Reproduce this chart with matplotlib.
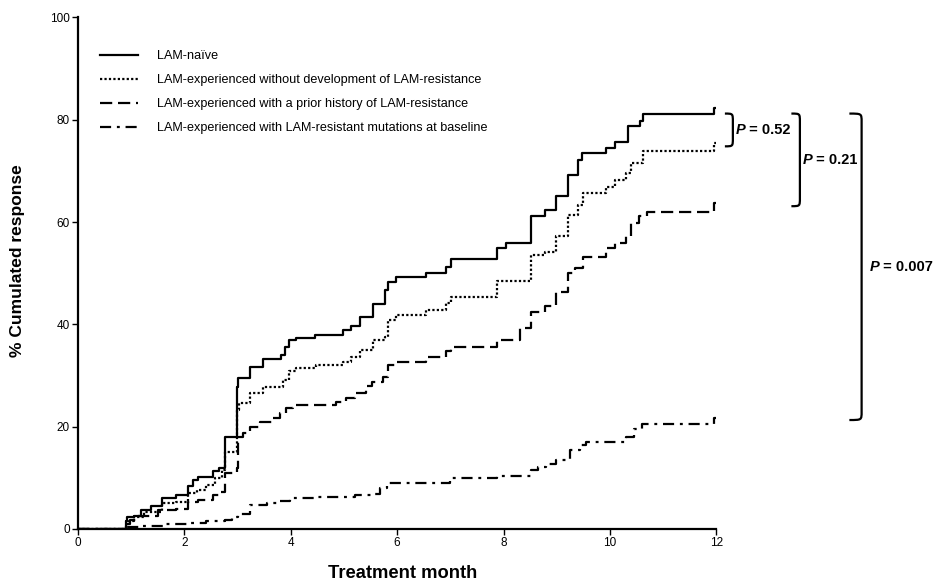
import matplotlib
matplotlib.use("Agg")
import matplotlib.pyplot as plt
from matplotlib.path import Path
from matplotlib.patches import PathPatch

plt.rcParams['font.family'] = ['Liberation Sans', 'DejaVu Sans']

# Cumulative response (%) by treatment month, step points for each group
naive_t = [0, 0.91, 0.93, 1.05, 1.18, 1.38, 1.57, 1.85, 2.07, 2.16, 2.25, 2.54, 2.66, 2.76,
           2.98, 3.0, 3.23, 3.48, 3.82, 3.9, 3.97, 4.10, 4.45, 4.98, 5.14, 5.30, 5.55, 5.77,
           5.82, 5.98, 6.55, 6.92, 7.02, 7.87, 8.05, 8.52, 8.77, 8.99, 9.21, 9.40, 9.47,
           9.93, 10.09, 10.34, 10.56, 10.63, 11.95, 12.0]
naive_v = [0, 1.5, 2.4, 2.6, 3.7, 4.4, 6.0, 6.6, 8.4, 9.6, 10.1, 11.4, 11.9, 17.9,
           27.8, 29.5, 31.7, 33.2, 34.0, 35.6, 36.9, 37.3, 37.9, 38.9, 39.7, 41.4, 44.0, 46.7,
           48.3, 49.2, 50.0, 51.3, 52.7, 54.9, 55.9, 61.1, 62.4, 65.0, 69.2, 72.1, 73.4,
           74.4, 75.7, 78.7, 79.7, 81.1, 82.2, 82.2]

nodev_t = [0, 0.91, 0.95, 1.05, 1.25, 1.57, 1.85, 2.07, 2.23, 2.40, 2.57, 2.70, 2.76,
           2.98, 3.02, 3.23, 3.48, 3.85, 3.97, 4.10, 4.48, 4.98, 5.14, 5.30, 5.55, 5.77,
           5.82, 5.98, 6.55, 6.92, 7.02, 7.87, 8.52, 8.77, 8.99, 9.21, 9.40, 9.49, 9.93,
           10.09, 10.31, 10.40, 10.63, 11.95, 12.0]
nodev_v = [0, 1.0, 1.5, 2.4, 3.4, 5.0, 5.3, 7.0, 7.6, 8.6, 9.9, 11.5, 15.1,
           23.3, 24.6, 26.5, 27.8, 29.1, 30.8, 31.4, 32.1, 32.7, 33.7, 35.0, 36.9, 37.6,
           40.9, 41.8, 42.8, 44.1, 45.4, 48.4, 53.6, 54.2, 57.2, 61.4, 63.3, 65.6, 66.9,
           68.2, 69.5, 71.5, 73.8, 75.4, 75.4]

prior_t = [0, 0.91, 0.97, 1.13, 1.50, 1.85, 2.07, 2.25, 2.54, 2.66, 2.76, 2.98, 3.0,
           3.10, 3.23, 3.42, 3.66, 3.79, 3.91, 4.04, 4.85, 5.04, 5.20, 5.42, 5.52, 5.74,
           5.82, 5.98, 6.55, 6.92, 7.02, 7.87, 8.30, 8.52, 8.77, 8.99, 9.21, 9.35, 9.49,
           9.93, 10.09, 10.31, 10.40, 10.55, 10.69, 11.95, 12.0]
prior_v = [0, 1.0, 1.8, 2.6, 3.7, 4.0, 5.3, 5.6, 6.6, 7.3, 10.9, 11.9, 18.0,
           18.7, 20.0, 21.0, 21.6, 22.6, 23.6, 24.2, 24.9, 25.6, 26.5, 28.0, 28.8, 29.8,
           32.1, 32.7, 33.7, 34.7, 35.6, 36.9, 39.3, 42.5, 43.5, 46.4, 50.0, 51.0, 53.2,
           54.9, 55.9, 57.2, 59.8, 61.1, 62.0, 63.7, 63.7]

mut_t = [0, 0.91, 1.20, 1.60, 2.10, 2.40, 2.76, 2.90, 3.0, 3.23, 3.55, 3.79, 3.98,
         4.50, 5.20, 5.55, 5.67, 5.80, 7.00, 7.87, 8.52, 8.65, 8.80, 8.99, 9.24, 9.43,
         9.55, 10.30, 10.45, 10.60, 11.95, 12.0]
mut_v = [0, 0.3, 0.6, 1.0, 1.2, 1.5, 1.8, 2.4, 3.0, 4.7, 5.0, 5.5, 6.0,
         6.2, 6.6, 6.8, 8.0, 8.9, 9.9, 10.4, 11.5, 12.1, 12.8, 13.5, 15.4, 16.4,
         17.0, 18.0, 19.6, 20.6, 21.6, 21.6]

labels = ["LAM-naïve",
          "LAM-experienced without development of LAM-resistance",
          "LAM-experienced with a prior history of LAM-resistance",
          "LAM-experienced with LAM-resistant mutations at baseline"]
styles = ['-', (0, (1, 1)), (0, (5.5, 2.6)), (0, (5, 2.6, 1.3, 2.6))]

# pairwise comparisons against the LAM-naive group
p_labels = [" = 0.52", " = 0.21", " = 0.007"]

fig = plt.figure(figsize=(9.34, 5.86), dpi=100)
ax = fig.add_axes([0.0835, 0.0973, 0.6835, 0.873])

series = [(naive_t, naive_v), (nodev_t, nodev_v), (prior_t, prior_v), (mut_t, mut_v)]
for (t, v), lab, ls in zip(series, labels, styles):
    ax.step(t, v, where='post', color='black', lw=1.6, linestyle=ls, label=lab)

ax.set_xlim(0, 12)
ax.set_ylim(0, 100)
ax.set_xticks(range(0, 13, 2))
ax.set_yticks(range(0, 101, 20))
for side in ['top', 'right']:
    ax.spines[side].set_visible(False)
for side in ['left', 'bottom']:
    ax.spines[side].set_linewidth(1.6)
ax.tick_params(length=4, width=1.0, labelsize=8.5, pad=2, color='black')
ax.set_xlabel("Treatment month", fontsize=13.2, fontweight='bold')
ax.set_ylabel("% Cumulated response", fontsize=12.5, fontweight='bold')
ax.xaxis.set_label_coords(0.508, -0.070)
ax.yaxis.set_label_coords(-0.083, 0.525)

ax.legend(loc='upper left', bbox_to_anchor=(0.026, 0.946), frameon=False,
          fontsize=9.1, handlelength=3.0, handletextpad=1.5, labelspacing=0.95,
          borderaxespad=0)

# brackets to the right of the curves
end_vals = [naive_v[-1], nodev_v[-1], prior_v[-1], mut_v[-1]]
top = end_vals[0] - 1.0
brackets = [(12.16, 12.31, end_vals[1] - 0.6, 12.36),
            (13.41, 13.57, end_vals[2] - 0.6, 13.62),
            (14.50, 14.73, end_vals[3] - 0.3, 14.88)]
for (x0, x1, bot, xt), ptxt in zip(brackets, p_labels):
    r = 1.6
    w = x1 - x0
    verts = [(x0, top), (x0 + w, top), (x1, top), (x1, top - r),
             (x1, bot + r),
             (x1, bot), (x0 + w, bot), (x0, bot)]
    codes = [Path.MOVETO, Path.CURVE4, Path.CURVE4, Path.CURVE4,
             Path.LINETO,
             Path.CURVE4, Path.CURVE4, Path.CURVE4]
    ax.add_patch(PathPatch(Path(verts, codes), fill=False, lw=1.6,
                           edgecolor='black', clip_on=False))
    ymid = (top + bot) / 2
    tp = ax.text(xt, ymid, "P", fontsize=10.5, fontweight='bold', style='italic',
                 ha='left', va='center', clip_on=False)
    ax.annotate(ptxt, xy=(1, 0), xycoords=tp, va='bottom', ha='left',
                fontsize=10.5, fontweight='bold', annotation_clip=False)

fig.savefig("out.png", dpi=100)
